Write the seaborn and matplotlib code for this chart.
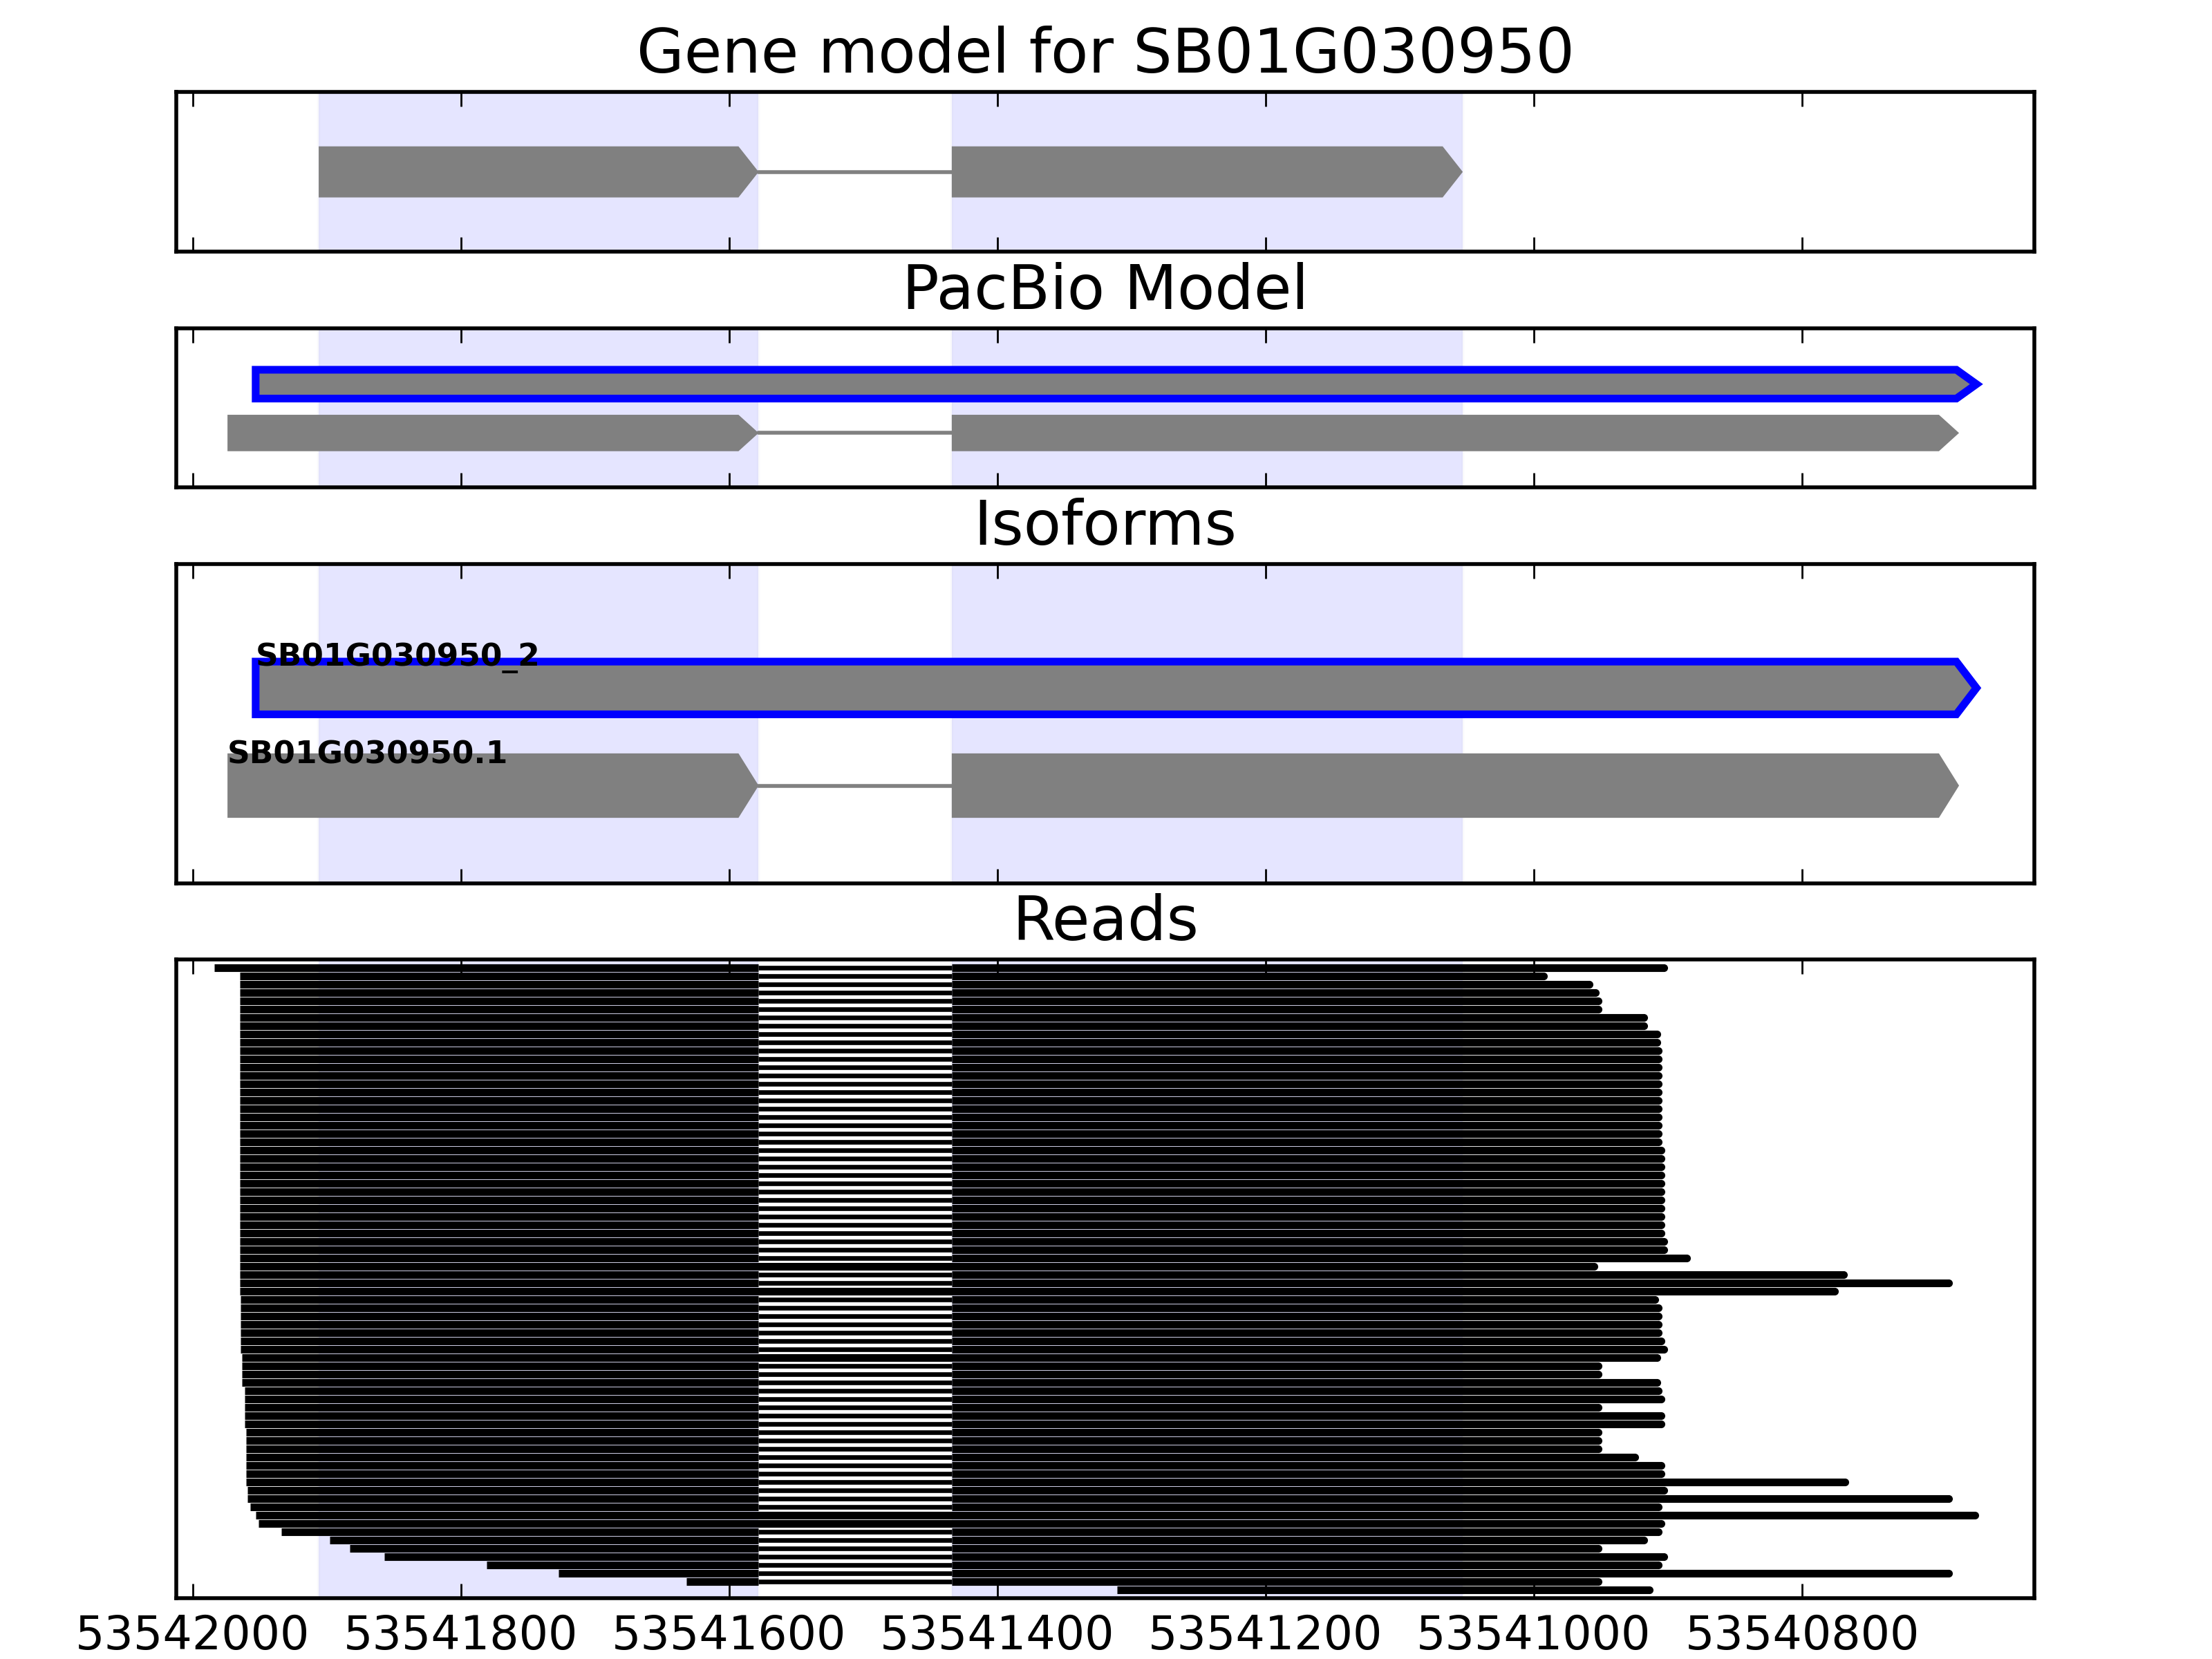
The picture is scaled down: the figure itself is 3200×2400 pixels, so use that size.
"""
Gene model / PacBio model / isoforms / read pile-up for SB01G030950.
"""

import matplotlib
matplotlib.use("Agg")
import matplotlib.pyplot as plt
from matplotlib.patches import FancyArrow
import seaborn as sns

sns.set_theme(style="ticks", rc={
    "axes.edgecolor": "black",
    "axes.linewidth": 1.0,
    "text.color": "black",
    "axes.labelcolor": "black",
    "xtick.color": "black",
    "xtick.direction": "in",
    "xtick.top": True,
    "xtick.bottom": True,
    "xtick.major.size": 3.7,
    "xtick.major.width": 0.5,
    "xtick.major.pad": 4,
    "xtick.labelsize": 12,
    "axes.titlesize": 16,
    "axes.titlepad": 5,
})
plt.rcParams["font.family"] = ["DejaVu Sans"]

GENE_ID = "SB01G030950"

# gene model exons (minus strand: start > end)
GENE_EXONS = [(53541906, 53541578), (53541434, 53541053)]

# transcripts shown in the PacBio / isoform panels, top row first
ISOFORM_NAMES = ["SB01G030950_2", "SB01G030950.1"]
ISOFORM_EXONS = [
    [(53541953, 53540670)],
    [(53541974, 53541578), (53541434, 53540683)],
]
ISOFORM_NEW = [True, False]

INTRON = (53541578, 53541434)

# reads, row 0 at the top
READ_STARTS = [
    53541984, 53541965, 53541965, 53541965, 53541965, 53541965, 53541965, 53541965,
    53541965, 53541965, 53541965, 53541965, 53541965, 53541965, 53541965, 53541965,
    53541965, 53541965, 53541965, 53541965, 53541965, 53541965, 53541965, 53541965,
    53541965, 53541965, 53541965, 53541965, 53541965, 53541965, 53541965, 53541965,
    53541965, 53541965, 53541965, 53541965, 53541965, 53541965, 53541965, 53541965,
    53541964, 53541964, 53541964, 53541964, 53541964, 53541964, 53541964, 53541963,
    53541963, 53541963, 53541963, 53541961, 53541961, 53541961, 53541961, 53541961,
    53541960, 53541960, 53541960, 53541960, 53541960, 53541960, 53541960, 53541959,
    53541959, 53541957, 53541953, 53541951, 53541934, 53541898, 53541883, 53541857,
    53541781, 53541727, 53541632, 53541311,
]
READ_ENDS = [
    53540903, 53540993, 53540959, 53540954, 53540952, 53540952, 53540918, 53540918,
    53540908, 53540908, 53540907, 53540907, 53540907, 53540907, 53540907, 53540907,
    53540907, 53540907, 53540907, 53540907, 53540907, 53540907, 53540905, 53540905,
    53540905, 53540905, 53540905, 53540905, 53540905, 53540905, 53540905, 53540905,
    53540905, 53540903, 53540903, 53540886, 53540955, 53540769, 53540691, 53540776,
    53540910, 53540907, 53540907, 53540907, 53540907, 53540905, 53540903, 53540908,
    53540952, 53540952, 53540908, 53540907, 53540905, 53540952, 53540905, 53540905,
    53540952, 53540952, 53540952, 53540925, 53540905, 53540905, 53540768, 53540903,
    53540691, 53540907, 53540671, 53540905, 53540907, 53540918, 53540952, 53540903,
    53540907, 53540691, 53540952, 53540914,
]
UNSPLICED_ROWS = [36, 39, 47, 66, 67]

XTICKS = [53542000, 53541800, 53541600, 53541400, 53541200, 53541000, 53540800]
XLIM = (53542012, 53540627)

HEAD_LEN = 15


def draw_transcript(ax, exons, y, width, outline=False):
    for s, e in exons:
        ax.add_patch(FancyArrow(s, y, e - s, 0, width=width, head_width=width,
                                head_length=HEAD_LEN, length_includes_head=True,
                                facecolor="gray",
                                edgecolor="blue" if outline else "none",
                                linewidth=2 if outline else 0, zorder=3))
    for (s1, e1), (s2, e2) in zip(exons[:-1], exons[1:]):
        ax.plot([e1, s2], [y, y], color="gray", lw=1, zorder=2)


fig, axes = plt.subplots(4, 1, figsize=(8, 6), sharex=True,
                         gridspec_kw=dict(height_ratios=[1, 1, 2, 4], hspace=0.239,
                                          left=0.0798, right=0.9196,
                                          top=0.9445, bottom=0.0367))

for ax in axes:
    for s, e in GENE_EXONS:
        ax.axvspan(e, s, facecolor="blue", edgecolor="#c8c8e0", alpha=0.1, lw=0.8,
                   zorder=0)
    ax.set_yticks([])

# 1. gene model
ax = axes[0]
draw_transcript(ax, GENE_EXONS, 0, 0.64)
ax.set_ylim(-1, 1)
ax.set_title(f"Gene model for {GENE_ID}")

# 2. PacBio model
ax = axes[1]
for i, (exons, new) in enumerate(zip(ISOFORM_EXONS, ISOFORM_NEW)):
    y = len(ISOFORM_EXONS) - 1 - i
    draw_transcript(ax, exons, y, 0.59 if new else 0.746, outline=new)
ax.set_ylim(-1.12, 2.15)
ax.set_title("PacBio Model")

# 3. isoforms
ax = axes[2]
for i, (name, exons, new) in enumerate(zip(ISOFORM_NAMES, ISOFORM_EXONS, ISOFORM_NEW)):
    y = len(ISOFORM_EXONS) - 1 - i
    draw_transcript(ax, exons, y, 0.54 if new else 0.66, outline=new)
    ax.text(exons[0][0], y + 0.23, name, fontsize=8.2, fontweight="bold",
            color="black", ha="left", va="baseline", zorder=5)
ax.set_ylim(-1, 2.27)
ax.set_title("Isoforms")

# 4. reads
ax = axes[3]
for row, (s, e) in enumerate(zip(READ_STARTS, READ_ENDS)):
    if row in UNSPLICED_ROWS:
        ax.hlines(row, e, s, color="black", lw=2, capstyle="butt", zorder=3)
    else:
        if s > INTRON[0]:
            ax.hlines(row, INTRON[0], s, color="black", lw=2, capstyle="butt", zorder=3)
        if s > INTRON[1]:
            ax.hlines(row, INTRON[1], min(s, INTRON[0]), color="black", lw=1.2,
                      capstyle="butt", zorder=2)
        ax.hlines(row, e, min(s, INTRON[1]), color="black", lw=2, capstyle="butt", zorder=3)
ax.scatter(READ_ENDS, range(len(READ_ENDS)), s=4, color="black", linewidths=0, zorder=4)
ax.set_ylim(len(READ_STARTS), -1)
ax.set_title("Reads")

ax.set_xticks(XTICKS)
ax.ticklabel_format(axis="x", useOffset=False, style="plain")
ax.set_xlim(*XLIM)

fig.savefig("out.png", dpi=400)
